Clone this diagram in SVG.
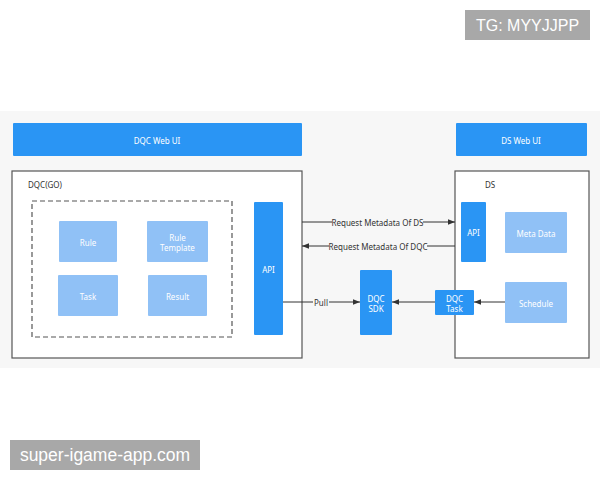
<svg xmlns="http://www.w3.org/2000/svg" width="600" height="480" viewBox="0 0 600 480">
<defs>
<style>
.t{font-family:"Noto Sans","Open Sans",sans-serif;font-size:8px;text-anchor:middle;dominant-baseline:central}
.w{fill:#ffffff}
.k{fill:#333333}
.blue{fill:#2a95f4}
.light{fill:#90c1f6}
.frame{fill:#ffffff;stroke:#555555;stroke-width:1.2}
.ln{stroke:#333333;stroke-width:1;fill:none}
.wm{font-family:"Liberation Sans","Noto Sans",sans-serif;font-size:16px;fill:#ffffff;dominant-baseline:central}
</style>
<marker id="ah" viewBox="0 0 10 10" refX="10" refY="5" markerWidth="7" markerHeight="7" orient="auto" markerUnits="userSpaceOnUse">
<path d="M0,1 L10,5 L0,9 z" fill="#333333"/>
</marker>
</defs>
<rect x="0" y="0" width="600" height="480" fill="#ffffff"/>
<rect x="0" y="111" width="600" height="257" fill="#f7f7f7"/>

<g id="dqc-web-ui"><rect x="13" y="123" width="289" height="33" class="blue" rx="1"/><text x="157" y="140" class="t w">DQC Web UI</text></g>
<g id="ds-web-ui"><rect x="456" y="123" width="131" height="33" class="blue" rx="1"/><text x="521" y="140" class="t w">DS Web UI</text></g>

<g id="dqc-go"><rect x="12" y="171" width="290" height="187" class="frame"/><text x="45" y="184" class="t k">DQC(GO)</text></g>
<g id="dqc-core"><rect x="32" y="201" width="200" height="136" fill="none" stroke="#555555" stroke-width="1.2" stroke-dasharray="5,3"/></g>
<g id="rule"><rect x="59" y="221" width="58" height="41" class="light" rx="1"/><text x="88" y="242" class="t w">Rule</text></g>
<g id="rule-template"><rect x="147" y="221" width="61" height="41" class="light" rx="1"/><text x="177.5" y="237" class="t w">Rule</text><text x="177.5" y="247" class="t w">Template</text></g>
<g id="task"><rect x="58" y="275" width="60" height="41" class="light" rx="1"/><text x="88" y="296" class="t w">Task</text></g>
<g id="result"><rect x="148" y="275" width="59" height="41" class="light" rx="1"/><text x="177.5" y="296" class="t w">Result</text></g>
<g id="dqc-api"><rect x="254" y="202" width="29" height="133" class="blue" rx="1"/><text x="268.5" y="269" class="t w">API</text></g>

<g id="ds"><rect x="455" y="171" width="134" height="187" class="frame"/><text x="490" y="184" class="t k">DS</text></g>
<g id="ds-api"><rect x="461" y="202" width="25" height="60" class="blue" rx="1"/><text x="473.5" y="232" class="t w">API</text></g>
<g id="meta-data"><rect x="505" y="212" width="62" height="41" class="light" rx="1"/><text x="536" y="233" class="t w">Meta Data</text></g>
<g id="schedule"><rect x="505" y="282" width="62" height="41" class="light" rx="1"/><text x="536" y="303" class="t w">Schedule</text></g>
<g id="dqc-task"><rect x="435" y="290" width="39" height="25" class="blue" rx="1"/><text x="454.5" y="298" class="t w">DQC</text><text x="454.5" y="308" class="t w">Task</text></g>
<g id="dqc-sdk"><rect x="360" y="270" width="32" height="65" class="blue" rx="1"/><text x="376" y="298" class="t w">DQC</text><text x="376" y="308" class="t w">SDK</text></g>

<g id="connectors">
<line x1="302" y1="222" x2="455" y2="222" class="ln" marker-end="url(#ah)"/>
<rect x="332" y="217" width="91" height="10" fill="#f7f7f7"/>
<text x="377.5" y="222" class="t k">Request Metadata Of DS</text>
<line x1="455" y1="246" x2="302" y2="246" class="ln" marker-end="url(#ah)"/>
<rect x="329" y="241" width="98" height="10" fill="#f7f7f7"/>
<text x="378" y="246" class="t k">Request Metadata Of DQC</text>
<line x1="283" y1="302" x2="360" y2="302" class="ln" marker-end="url(#ah)"/>
<rect x="313" y="297" width="16" height="10" fill="#f7f7f7"/>
<text x="321" y="302" class="t k">Pull</text>
<line x1="435" y1="302" x2="392" y2="302" class="ln" marker-end="url(#ah)"/>
<line x1="505" y1="302" x2="474" y2="302" class="ln" marker-end="url(#ah)"/>
</g>

<g id="watermark-tg"><rect x="465" y="10" width="125" height="30" fill="#a8a8a8"/><text x="527.5" y="25" class="wm" text-anchor="middle">TG: MYYJJPP</text></g>
<g id="watermark-site"><rect x="10" y="440" width="190" height="30" fill="#a8a8a8"/><text x="105" y="455" class="wm" text-anchor="middle" style="font-size:17.5px">super-igame-app.com</text></g>
</svg>
